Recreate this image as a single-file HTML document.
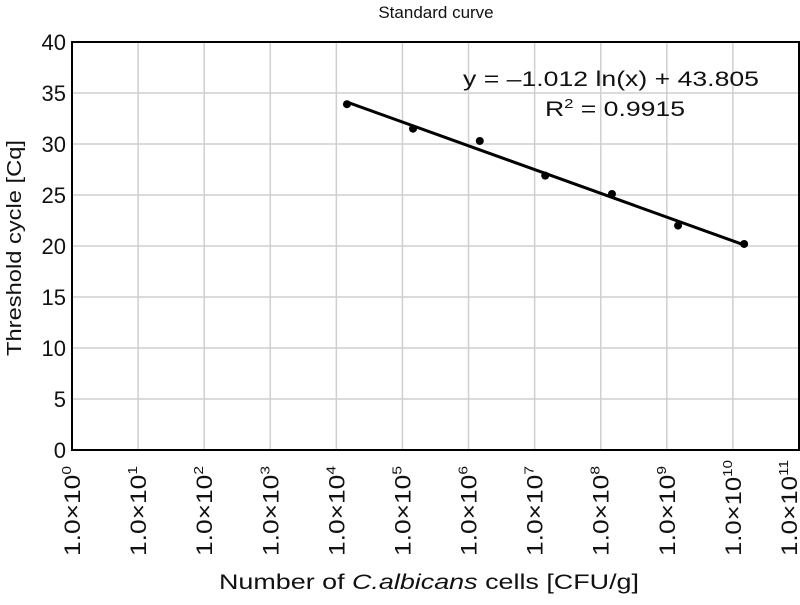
<!DOCTYPE html>
<html><head><meta charset="utf-8"><style>
body{margin:0;background:#fff;}
svg text{font-family:"Liberation Sans",Arial,sans-serif;fill:#111;}
</style></head><body>
<svg id="chart" width="800" height="600" xmlns="http://www.w3.org/2000/svg">
<text x="436" y="18" font-size="17" text-anchor="middle">Standard curve</text>
<g id="grid"></g>
<g id="yticks"></g>
<g id="xticks"></g>
<text transform="translate(21,248) rotate(-90)" font-size="20" text-anchor="middle" textLength="216" lengthAdjust="spacingAndGlyphs">Threshold cycle [Cq]</text>
<text x="429" y="589" font-size="21" text-anchor="middle" textLength="420" lengthAdjust="spacingAndGlyphs">Number of <tspan font-style="italic">C.albicans</tspan> cells [CFU/g]</text>
<g id="series"></g>
<text x="611" y="86" font-size="21" text-anchor="middle" textLength="296" lengthAdjust="spacingAndGlyphs">y = –1.012 ln(x) + 43.805</text>
<text x="545" y="116" font-size="21" textLength="140" lengthAdjust="spacingAndGlyphs">R<tspan font-size="13" dy="-8">2</tspan><tspan dy="8"> = 0.9915</tspan></text>
</svg>
<script>
const xLog = [4.16, 5.16, 6.17, 7.16, 8.17, 9.17, 10.17];
const yCq = [33.9, 31.5, 30.3, 26.9, 25.1, 22.0, 20.2];
const yTicks = [0, 5, 10, 15, 20, 25, 30, 35, 40];
const xTicks = [0,1,2,3,4,5,6,7,8,9,10,11];
const slope = -1.012, intercept = 43.805;

const NS = "http://www.w3.org/2000/svg";
const L = 72, R = 799, T = 42, B = 450;
const sx = v => L + v / 11 * (R - L);
const sy = v => B - v / 40 * (B - T);
function mk(tag, attrs, parent){const e=document.createElementNS(NS,tag);for(const k in attrs)e.setAttribute(k,attrs[k]);parent.appendChild(e);return e;}
const grid = document.getElementById('grid'), yg = document.getElementById('yticks'), xg = document.getElementById('xticks'), sg = document.getElementById('series');
yTicks.forEach(v=>{
  const l = mk('line',{x1:L,x2:R,y1:sy(v),y2:sy(v),stroke:'#cfcfcf','stroke-width':1.5},grid);
  
  
  const t = mk('text',{x:L-6,y:sy(v)+8,'font-size':22,'text-anchor':'end'},yg);
  t.textContent = v;
  
  
});
xTicks.forEach(v=>{
  const l = mk('line',{x1:sx(v),x2:sx(v),y1:T,y2:B,stroke:'#cfcfcf','stroke-width':1.5},grid);
  
  
  const cx = Math.min(sx(v)+8, 797);
  const t = mk('text',{transform:`translate(${cx},556) rotate(-90)`,'font-size':22,'text-anchor':'start'},xg);
  t.innerHTML = '1.0×10<tspan font-size="13" dy="-9">'+v+'</tspan>';
  t.setAttribute('textLength', v >= 10 ? 96 : 90);
  t.setAttribute('lengthAdjust','spacingAndGlyphs');
  
  
});
const frame = mk('rect',{x:L,y:T,width:R-L,height:B-T,fill:'none',stroke:'#000','stroke-width':2},grid);


const x0 = Math.min(...xLog), x1 = Math.max(...xLog);
const f = l => slope*l*Math.LN10 + intercept;
const tl = mk('line',{x1:sx(x0),y1:sy(f(x0)),x2:sx(x1),y2:sy(f(x1)),stroke:'#000','stroke-width':3},sg);


xLog.forEach((v,i)=>{
  const c = mk('circle',{cx:sx(v),cy:sy(yCq[i]),r:4,fill:'#000'},sg);
  
  
});
</script>
</body></html>
